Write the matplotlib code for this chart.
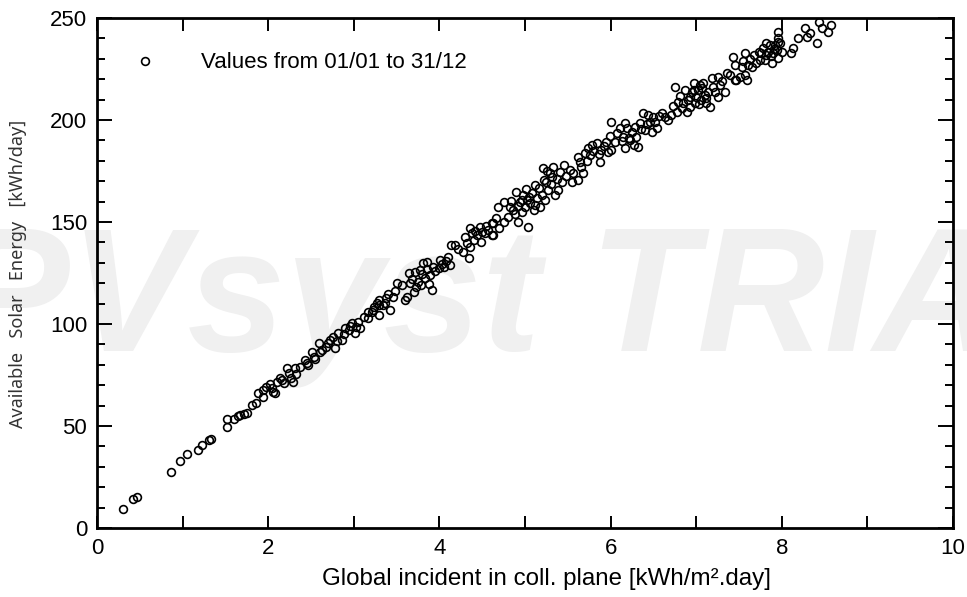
import matplotlib
matplotlib.use("Agg")
import matplotlib.pyplot as plt
from matplotlib.ticker import MultipleLocator

# Daily values: global incident irradiation in collector plane vs available solar energy
glob_inc = [
    0.30, 0.42, 0.47, 0.86, 0.97, 1.05, 1.18, 1.23, 1.31, 1.33, 1.52, 1.52, 1.60, 1.65, 1.67, 1.72,
    1.75, 1.81, 1.86, 1.88, 1.94, 1.98, 2.04, 2.06, 2.10, 2.14, 2.18, 2.22, 2.27, 2.29, 2.31, 2.37,
    2.43, 2.47, 2.51, 2.53, 2.59, 2.60, 2.68, 2.72, 2.76, 2.78, 2.82, 2.86, 2.90, 2.94, 2.98, 3.01,
    3.05, 3.07, 3.17, 3.17, 3.21, 3.27, 3.29,
    3.23, 3.29, 3.34, 3.38, 3.42, 3.46, 3.50, 3.56, 3.60, 3.62, 3.64, 3.66, 3.70, 3.71, 3.75, 3.77,
    3.79, 3.81, 3.83, 3.85, 3.89, 3.91, 3.93, 3.99, 4.01, 4.05, 4.10, 4.12, 4.14, 4.18, 4.28, 4.30,
    4.34, 4.36, 4.36, 4.40, 4.44, 4.47, 4.49, 4.53, 4.57, 4.61, 4.63,
    4.61, 4.63, 4.69, 4.75, 4.75, 4.80, 4.82, 4.86, 4.90, 4.92, 4.94, 4.96, 4.98, 5.00, 5.02, 5.04,
    5.06, 5.10, 5.12, 5.14, 5.18, 5.20, 5.21, 5.23, 5.25, 5.27, 5.29, 5.31, 5.33, 5.35, 5.39, 5.43,
    5.45, 5.53, 5.55, 5.56, 5.62, 5.62, 5.66, 5.68, 5.70, 5.74, 5.76, 5.78, 5.84, 5.88, 5.89, 5.95,
    5.97,
    6.01, 6.01, 6.05, 6.11, 6.15, 6.17, 6.17, 6.21, 6.25, 6.27, 6.30, 6.32, 6.34, 6.38, 6.40, 6.44,
    6.46, 6.48, 6.50, 6.54, 6.60, 6.64, 6.67, 6.71, 6.75, 6.77, 6.79, 6.83, 6.87, 6.89, 6.91, 6.93,
    6.95, 6.97, 6.99, 7.00, 7.02, 7.04, 7.06, 7.08, 7.10, 7.12, 7.14, 7.16, 7.18, 7.22, 7.26, 7.28,
    7.34, 7.26, 7.36, 7.39, 7.45,
    7.43, 7.45, 7.47, 7.51, 7.53, 7.57, 7.57, 7.59, 7.61, 7.65, 7.67, 7.75, 7.76, 7.78, 7.80, 7.82,
    7.84, 7.86, 7.88, 7.90, 7.92, 7.94, 7.96, 7.96, 7.96, 7.98, 8.00, 8.11, 8.13, 8.19, 8.27, 8.29,
    8.33, 8.41, 8.43, 8.47, 8.54, 8.58,
    1.94, 2.02, 2.08, 2.16, 2.24, 2.33, 2.45, 2.55, 2.63, 2.70, 2.80, 2.88, 2.96, 3.03, 3.12, 3.24,
    3.30, 3.36, 3.40, 3.48, 3.68, 3.73, 3.80, 3.86, 3.88, 3.95, 4.03, 4.08, 4.22, 4.32, 4.38, 4.42,
    4.50, 4.55, 4.66, 4.70, 4.84, 4.88, 4.92, 4.97, 5.01, 5.05, 5.08, 5.12, 5.16, 5.22, 5.26, 5.30,
    5.37, 5.41, 5.48, 5.64, 5.72, 5.80, 5.86, 5.92, 5.99, 6.07, 6.13, 6.19, 6.23, 6.28, 6.36, 6.42,
    6.52, 6.57, 6.73, 6.81, 6.85, 6.93, 6.98, 7.03, 7.07, 7.12, 7.20, 7.30, 7.55, 7.63, 7.70, 7.73,
    7.81, 7.87, 7.91, 7.95,
]
solar_avail = [
    9.2, 14.2, 15.3, 27.6, 32.8, 36.4, 38.1, 40.7, 43.3, 43.6, 49.7, 53.4, 53.3, 54.9, 55.6, 56.0,
    56.5, 60.3, 61.4, 66.0, 67.6, 69.3, 68.5, 66.8, 71.7, 73.4, 70.9, 78.3, 73.4, 71.7, 78.3, 79.1,
    82.4, 79.9, 86.4, 84.0, 90.5, 86.4, 88.9, 92.2, 93.8, 88.1, 95.4, 92.2, 97.9, 97.1, 100.3, 95.4,
    101.1, 97.9, 106.0, 102.8, 106.0, 110.1, 104.4,
    106.9, 111.8, 109.3, 112.6, 106.9, 113.4, 120.0, 119.1, 111.8, 113.4, 124.8, 120.0, 115.8, 125.6, 120.7, 126.5,
    119.1, 129.8, 122.4, 130.5, 124.0, 116.7, 128.1, 127.3, 131.4, 128.1, 133.0, 128.9, 138.7, 138.7, 135.4, 142.8,
    132.2, 137.9, 146.9, 141.2, 143.6, 147.7, 140.3, 144.5, 146.1, 149.4, 143.6,
    143.6, 149.4, 157.5, 160.0, 150.2, 152.6, 157.5, 155.9, 164.9, 150.2, 160.0, 155.0, 163.2, 157.5, 160.8, 147.7,
    159.2, 155.9, 168.1, 161.6, 157.5, 163.2, 176.3, 160.8, 169.8, 165.7, 173.9, 172.2, 177.1, 163.2, 165.7, 169.8,
    177.9, 175.5, 169.8, 173.9, 170.6, 182.0, 177.1, 173.9, 183.7, 186.1, 182.8, 187.7, 188.6, 179.6, 185.3, 189.4,
    184.5,
    199.2, 185.3, 189.4, 195.9, 191.8, 198.4, 186.1, 191.0, 194.3, 187.7, 191.8, 186.9, 198.4, 203.3, 195.1, 202.5,
    199.2, 194.3, 201.6, 195.9, 203.3, 201.6, 200.0, 202.5, 216.3, 204.1, 209.0, 205.7, 214.7, 204.1, 209.8, 206.5,
    213.9, 218.0, 208.2, 211.4, 214.7, 217.2, 209.8, 218.0, 212.3, 208.2, 213.9, 206.5, 220.4, 213.9, 211.4, 217.2,
    213.9, 221.2, 222.9, 222.1, 219.6,
    231.0, 227.0, 219.6, 221.2, 226.1, 232.7, 222.1, 219.6, 227.0, 226.1, 231.9, 229.4, 232.7, 235.1, 229.4, 237.6,
    233.5, 236.8, 227.8, 232.7, 236.8, 234.3, 230.2, 243.3, 240.0, 237.6, 233.5, 232.7, 235.1, 240.0, 244.9, 240.8,
    242.5, 237.6, 248.2, 244.9, 243.3, 246.6,
    64.0, 70.5, 66.0, 72.5, 75.8, 75.5, 80.8, 83.0, 87.5, 90.5, 91.5, 95.0, 99.0, 98.5, 103.5, 108.5,
    109.5, 110.5, 114.5, 116.0, 122.0, 118.0, 124.5, 127.0, 119.5, 126.0, 129.5, 131.0, 137.0, 139.5, 144.5, 145.5,
    145.0, 148.0, 152.0, 147.0, 160.5, 154.0, 158.0, 161.0, 166.0, 162.5, 164.0, 158.5, 166.5, 170.5, 175.0, 168.5,
    171.0, 174.5, 172.5, 179.5, 180.0, 185.0, 183.5, 187.5, 192.0, 193.5, 189.5, 196.0, 190.0, 196.5, 195.5, 198.0,
    199.0, 202.0, 207.0, 212.0, 208.5, 211.5, 214.5, 208.0, 215.5, 211.0, 216.0, 219.0, 229.0, 229.8, 228.0, 233.5,
    232.0, 231.5, 235.0, 238.0,
]

x_label = "Global incident in coll. plane [kWh/m\u00b2.day]"
y_label = "Available   Solar   Energy   [kWh/day]"
series_label = "Values from 01/01 to 31/12"
watermark = "PVsyst TRIAL"

plt.rcParams["font.family"] = ["Liberation Sans", "DejaVu Sans"]

fig = plt.figure(figsize=(9.67, 5.97), dpi=100)
fig.patch.set_facecolor("white")
ax = fig.add_axes([97 / 967, 1 - 528 / 597, (953 - 97) / 967, (528 - 18) / 597])
ax.set_facecolor("none")

# Background watermark behind the plot
fig.text(530 / 967, 1 - 306 / 597, watermark, ha="center", va="center",
         fontsize=127, fontweight="bold", fontstyle="italic",
         color="#f0f0f0", zorder=-10)

ax.plot(glob_inc, solar_avail, linestyle="none", marker="o", markersize=5.6,
        markerfacecolor="none", markeredgecolor="black", markeredgewidth=1.2,
        label=series_label, clip_on=True)

ax.set_xlim(0, 10)
ax.set_ylim(0, 250)
ax.xaxis.set_major_locator(MultipleLocator(2))
ax.xaxis.set_minor_locator(MultipleLocator(1))
ax.yaxis.set_major_locator(MultipleLocator(50))
ax.yaxis.set_minor_locator(MultipleLocator(10))

for s in ax.spines.values():
    s.set_linewidth(2.0)

ax.tick_params(axis="both", which="both", direction="in", top=True, right=True,
               labelsize=16, width=1.4, pad=7, colors="black")
ax.tick_params(axis="y", which="major", length=11)
ax.tick_params(axis="y", which="minor", length=6)
ax.tick_params(axis="x", which="both", length=9)

ax.set_xlabel(x_label, fontsize=17.4)
ax.xaxis.set_label_coords((547 - 97) / 856, -(579 - 528) / 510)
ax.xaxis.label.set_verticalalignment("center")

fig.text(18 / 967, 1 - 274 / 597, y_label, rotation=90, ha="center", va="center",
         fontsize=13, color="#333333", family=["Noto Sans", "DejaVu Sans"])

leg = ax.legend(loc="upper left", bbox_to_anchor=(0.038, 0.95), frameon=False,
                fontsize=16, handlelength=0.6, handletextpad=2.2, borderaxespad=0)

fig.savefig("out.png", dpi=100, facecolor="white")
